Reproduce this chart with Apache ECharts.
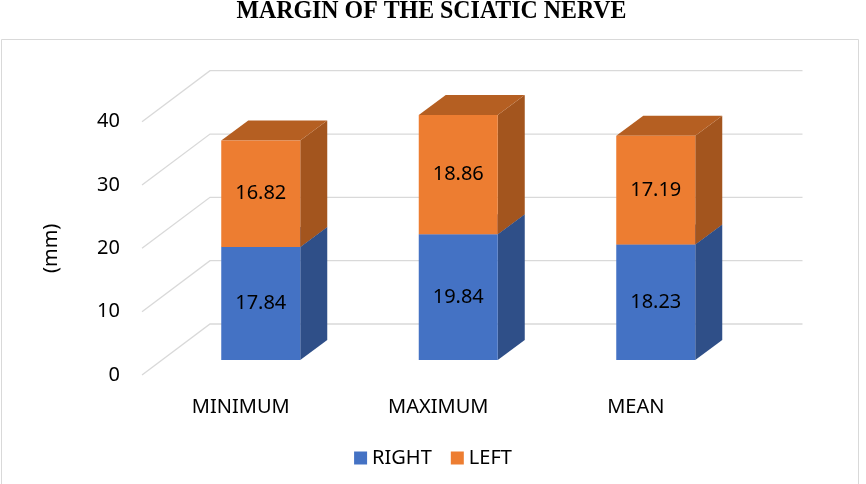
<!DOCTYPE html>
<html>
<head>
<meta charset="utf-8">
<script src="https://cdn.jsdelivr.net/npm/echarts@6/dist/echarts.min.js"></script>
<style>
  html, body { margin: 0; padding: 0; background: #fff; }
  #main { width: 866px; height: 484px; }
</style>
</head>
<body>
<div id="main"></div>
<script>
const categories = ["MINIMUM", "MAXIMUM", "MEAN"];
const rightValues = [17.84, 19.84, 18.23];
const leftValues = [16.82, 18.86, 17.19];
const yTicks = [0, 10, 20, 30, 40];

const FONT = '"Noto Sans", "Open Sans", sans-serif';
// 3D look: bars sit a bit behind the front floor edge, back wall further back
const BAR_SHIFT = [20, -15];
const BAR_DEPTH = [27, -20];
const WALL_DEPTH = [68, -51];

const chart = echarts.init(document.getElementById("main"));

// stacked pieces: [category index, base, top]
const rightData = rightValues.map((v, i) => [i, 0, v]);
const leftData = leftValues.map((v, i) => [i, rightValues[i], rightValues[i] + v]);

function barRenderer(front, side, top, labelOf) {
  return function (params, api) {
    const i = api.value(0);
    const b = api.coord([i, api.value(1)]);
    const t = api.coord([i, api.value(2)]);
    const w = api.size([1, 0])[0] * 0.4;
    const x0 = b[0] - w / 2 + BAR_SHIFT[0];
    const x1 = x0 + w;
    const yb = b[1] + BAR_SHIFT[1];
    const yt = t[1] + BAR_SHIFT[1];
    const [dx, dy] = BAR_DEPTH;
    return {
      type: "group",
      children: [
        { type: "polygon", shape: { points: [[x1, yb], [x1 + dx, yb + dy], [x1 + dx, yt + dy], [x1, yt]] }, style: { fill: side } },
        { type: "polygon", shape: { points: [[x0, yt], [x1, yt], [x1 + dx, yt + dy], [x0 + dx, yt + dy]] }, style: { fill: top } },
        { type: "rect", shape: { x: x0, y: yt, width: w, height: yb - yt }, style: { fill: front } },
        {
          type: "text",
          x: (x0 + x1) / 2,
          y: (yt + yb) / 2,
          style: { text: labelOf(params.dataIndex), font: "20px " + FONT, fill: "#000", align: "center", verticalAlign: "middle" }
        }
      ]
    };
  };
}

const option = {
  animation: false,
  backgroundColor: "#fff",
  graphic: [
    { type: "rect", z: -10, shape: { x: 1.5, y: 39.5, width: 857, height: 470 }, style: { fill: "none", stroke: "#d9d9d9", lineWidth: 1 } },
    {
      type: "text", x: 431.5, y: 12, scaleX: 0.955,
      style: { text: "MARGIN OF THE SCIATIC NERVE", font: 'bold 25px "Liberation Serif", serif', fill: "#000", align: "center", verticalAlign: "middle" }
    }
  ],
  grid: { left: 142, right: 131.5, top: 121.7, bottom: 109 },
  legend: {
    data: ["RIGHT", "LEFT"],
    left: "center",
    top: 443,
    icon: "rect",
    itemWidth: 13,
    itemHeight: 13,
    itemGap: 19,
    textStyle: { fontSize: 20, fontFamily: FONT, color: "#000" }
  },
  xAxis: {
    type: "category",
    data: categories,
    axisLine: { show: false },
    axisTick: { show: false },
    axisLabel: { fontSize: 20, fontFamily: FONT, color: "#000", margin: 22 }
  },
  yAxis: {
    type: "value",
    min: 0,
    max: 40,
    interval: 10,
    name: "(mm)",
    nameLocation: "middle",
    nameRotate: 90,
    nameGap: 81,
    nameTextStyle: { fontSize: 20, fontFamily: FONT, color: "#000" },
    axisLine: { show: false },
    axisTick: { show: false },
    splitLine: { show: false },
    axisLabel: { fontSize: 20, fontFamily: FONT, color: "#000", margin: 22 }
  },
  series: [
    {
      name: "gridlines",
      type: "custom",
      z: 1,
      silent: true,
      data: yTicks.map(v => [0, v]),
      renderItem: function (params, api) {
        const p = api.coord([0, api.value(1)]);
        const left = params.coordSys.x;
        const right = left + params.coordSys.width;
        const [dx, dy] = WALL_DEPTH;
        return {
          type: "polyline",
          shape: { points: [[left, p[1]], [left + dx, p[1] + dy], [right + dx, p[1] + dy]] },
          style: { stroke: "#d9d9d9", lineWidth: 1.3, fill: "none" }
        };
      }
    },
    {
      name: "RIGHT",
      type: "custom",
      z: 3,
      itemStyle: { color: "#4472c4" },
      data: rightData,
      renderItem: barRenderer("#4472c4", "#2f4f88", "#3a62a8", i => rightValues[i].toFixed(2))
    },
    {
      name: "LEFT",
      type: "custom",
      z: 4,
      itemStyle: { color: "#ed7d31" },
      data: leftData,
      renderItem: barRenderer("#ed7d31", "#a3551e", "#b55f22", i => leftValues[i].toFixed(2))
    }
  ]
};

chart.setOption(option);
</script>
</body>
</html>
